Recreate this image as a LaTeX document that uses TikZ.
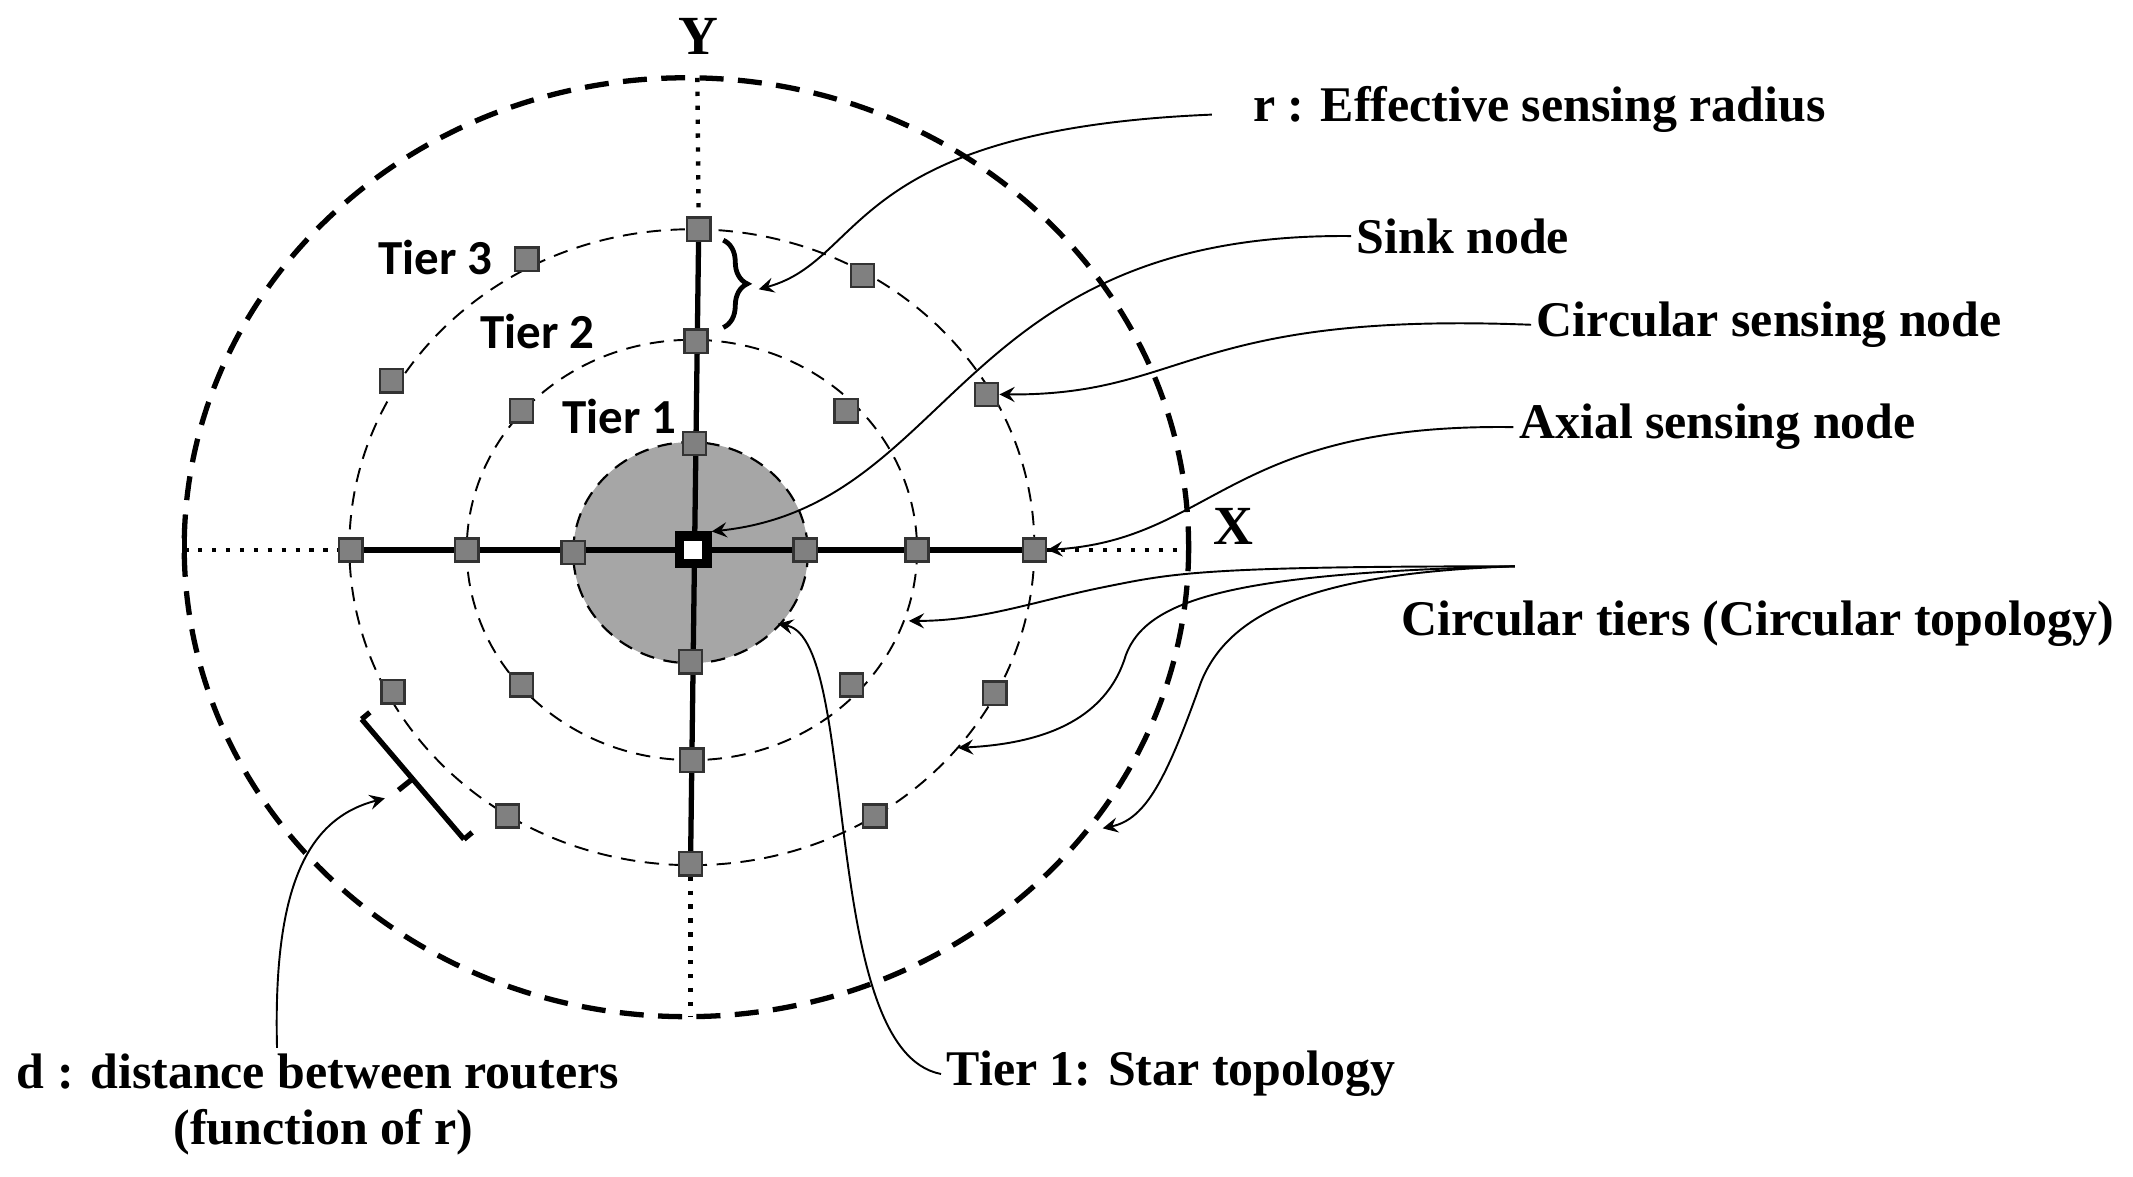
\documentclass[tikz,border=0pt]{standalone}
\usepackage{fontspec}
\setmainfont{Liberation Serif}
\newfontfamily\tierfont{Carlito}
\usetikzlibrary{decorations.pathreplacing}
\begin{document}
\begin{tikzpicture}[x=0.01cm,y=-0.01cm,
  sq/.style={draw=black!80,fill=black!50,line width=0.5pt,minimum size=0.17cm,inner sep=0pt},
  lab/.style={font=\fontsize{10.4}{11}\selectfont\bfseries,inner sep=1pt},
  tier/.style={font=\tierfont\fontsize{10.2}{11}\selectfont\bfseries,inner sep=1pt},
  ptr/.style={-stealth,line width=0.4pt},
  axis/.style={line width=1.1pt},
  dot/.style={dotted,line width=0.9pt}]
\useasboundingbox (0,0) rectangle (1563,862);
% circles
\fill[black!35] (506,405) ellipse (86 and 81);
\draw[dashed,line width=0.45pt,dash pattern=on 3pt off 2pt] (506,405) ellipse (86 and 81);
\draw[dashed,line width=0.4pt,dash pattern=on 3pt off 2pt] (507,403) ellipse (165 and 154);
\draw[dashed,line width=0.4pt,dash pattern=on 3pt off 2pt] (507,401) ellipse (251 and 233);
\draw[dashed,line width=1.1pt,dash pattern=on 5pt off 3pt] (503,401) ellipse (368 and 344);
% axis end coords
\coordinate (ytop) at (511,57);
\coordinate (ybot) at (506,745);
\coordinate (xl) at (135,403);
\coordinate (xr) at (870,403);
% axial nodes
\node[sq] (a1) at (512,168) {};
\node[sq] (a2) at (510,250) {};
\node[sq] (a3) at (509,325) {};
\node[sq] (a4) at (506,485) {};
\node[sq] (a5) at (507,557) {};
\node[sq] (a6) at (506,633) {};
\node[sq] (b1) at (257,403) {};
\node[sq] (b2) at (342,403) {};
\node[sq] (b3) at (420,405) {};
\node[sq] (b4) at (590,403) {};
\node[sq] (b5) at (672,403) {};
\node[sq] (b6) at (758,403) {};
\draw[axis] (a1) -- (a6);
\draw[axis] (b1) -- (b6);
\draw[dot] (ytop) -- (a1);
\draw[dot] (a6) -- (ybot);
\draw[dot] (xl) -- (b1);
\draw[dot] (b6) -- (xr);
\draw[line width=1.1pt] (135,392) -- (135,414);
% redraw nodes above lines
\foreach \p in {(512,168),(510,250),(509,325),(506,485),(507,557),(506,633),(257,403),(342,403),(420,405),(590,403),(672,403),(758,403)}
  \node[sq] at \p {};
\node[draw=black,fill=white,line width=2pt,minimum size=0.2cm,inner sep=0pt] (sink) at (508,403) {};
% circular nodes
\node[sq] (c1) at (382,301) {};
\node[sq] (c2) at (620,301) {};
\node[sq] (c3) at (382,502) {};
\node[sq] (c4) at (624,502) {};
\node[sq] (d1) at (386,190) {};
\node[sq] (d2) at (632,202) {};
\node[sq] (d3) at (287,279) {};
\node[sq] (d4) at (723,289) {};
\node[sq] (d5) at (288,507) {};
\node[sq] (d6) at (729,508) {};
\node[sq] (d7) at (372,598) {};
\node[sq] (d8) at (641,598) {};
% labels
\node[lab,font=\fontsize{11.5}{12}\selectfont\bfseries] (Y) at (512,27) {Y};
\node[lab,font=\fontsize{11.5}{12}\selectfont\bfseries] (X) at (904,386) {X};
\node[tier] (t3) at (319,189) {Tier 3};
\node[tier] (t2) at (394,243) {Tier 2};
\node[tier] (t1) at (454,305) {Tier 1};
% brace
\draw[line width=1pt,decorate,decoration={brace,amplitude=5pt}] (530,176) -- (530,240);
\coordinate (br) at (556,212);
% d bracket
\draw[line width=1.1pt] (265,527) -- (340,615);
\draw[line width=1.1pt] (265,527) -- (271,522);
\draw[line width=1.1pt] (340,615) -- (346,610);
\draw[line width=1.1pt] (302,571) -- (292,579);
% texts
\node[lab,anchor=west] (tr) at (914,80) {r : Effective sensing radius};
\coordinate (trs) at (888,84);
\node[lab,anchor=west] (tsink) at (990,173) {Sink node};
\node[lab,anchor=west] (tcsn) at (1122,238) {Circular sensing node};
\node[lab,anchor=west] (tasn) at (1109,313) {Axial sensing node};
\node[lab] (tct) at (1288,457) {Circular tiers (Circular topology)};
\node[lab] (tstar) at (858,787) {Tier 1: Star topology};
\node[lab] (td) at (233,785) {d : distance between routers};
\node[lab] (tdf) at (237,830) {(function of r)};
% pointers
\coordinate (ct0) at (1110,415);
\coordinate (ctA) at (666,455);
\coordinate (ctB) at (702,548);
\coordinate (ctC) at (808,607);
\draw[ptr] (trs) .. controls (620,95) and (635,190) .. (br);
\draw[ptr] (tsink.west) .. controls (700,170) and (700,370) .. (sink.north east);
\draw[ptr] (tcsn.west) .. controls (870,228) and (870,290) .. (d4.east);
\draw[ptr] (tasn.west) .. controls (900,310) and (890,395) .. (b6.east);
\draw[ptr] (ct0) .. controls (880,415) and (860,420) .. (810,430) .. controls (760,440) and (720,455) .. (ctA);
\draw[ptr] (ct0) .. controls (900,420) and (840,440) .. (825,480) .. controls (810,530) and (760,545) .. (ctB);
\draw[ptr] (ct0) .. controls (960,420) and (900,450) .. (880,500) .. controls (855,570) and (840,600) .. (ctC);
\draw[ptr] (tstar.west) .. controls (600,770) and (630,470) .. (570,457);
\draw[ptr] (td.north -| 203,0) .. controls (200,650) and (225,600) .. (282,585);
\end{tikzpicture}
\end{document}
